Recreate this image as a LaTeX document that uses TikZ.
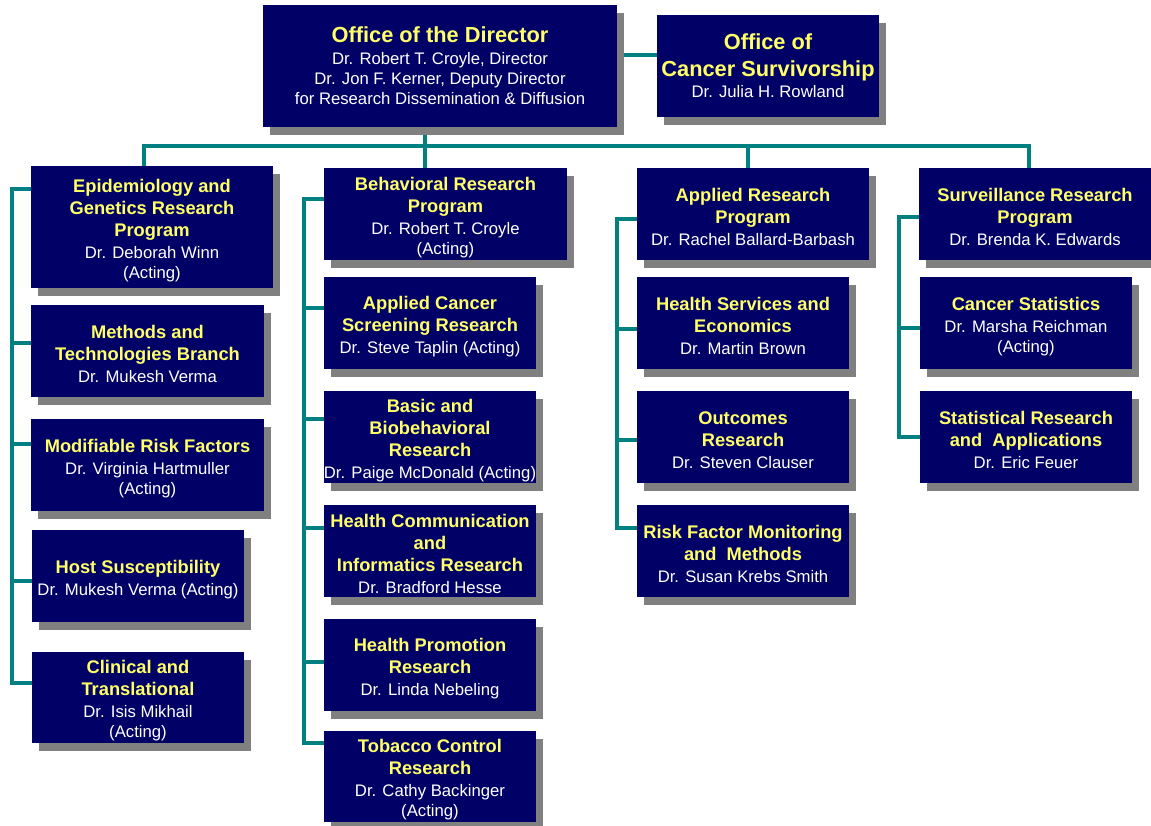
\documentclass[tikz,border=0pt]{standalone}
\usepackage{fontspec}
\setmainfont{Liberation Sans}
\usetikzlibrary{shadows,backgrounds}
\definecolor{boxnavy}{HTML}{000066}
\definecolor{ttlyellow}{HTML}{FFFF66}
\definecolor{linkteal}{HTML}{008080}
\definecolor{shadowgray}{HTML}{808080}
\newcommand{\ttl}[1]{{\fontsize{18.3}{22}\selectfont\bfseries\color{ttlyellow}#1}}
\newcommand{\ttlhead}[1]{\ttl{\rule{0pt}{19.5pt}#1}}
\newcommand{\ttlbig}[1]{{\fontsize{21.8}{26}\selectfont\bfseries\color{ttlyellow}#1}}
\newcommand{\tnl}{\\[2pt]}
\begin{document}
\begin{tikzpicture}[x=1pt, y=-1pt,
	unit/.style 2 args={fill=boxnavy, text=white, inner sep=0pt, align=center,
		minimum width=#1, minimum height=#2,
		font=\fontsize{16.7}{20}\selectfont,
		drop shadow={shadow xshift=7pt, shadow yshift=-8pt, fill=shadowgray, opacity=1}},
	link/.style={draw=linkteal, line width=3.5pt}]
	\useasboundingbox (0,0) rectangle (1151,826);
	% top row
	\node[unit={354}{122}] (dir) at (440,66) {\ttlbig{Office of the Director}\\[2pt] Dr. Robert T. Croyle, Director\\ Dr. Jon F. Kerner, Deputy Director\\ for Research Dissemination \& Diffusion};
	\node[unit={222}{102}] (surv) at (768,66) {\ttlbig{Office of}\\[7pt] \ttlbig{Cancer Survivorship}\\[1pt] Dr. Julia H. Rowland};
	% epidemiology column
	\node[unit={242}{122}] (epi) at (152,227) {\ttlhead{Epidemiology and}\tnl \ttl{Genetics Research}\tnl \ttl{Program}\tnl Dr. Deborah Winn\\ (Acting)};
	\node[unit={233}{92}] (meth) at (147.5,351) {\ttlhead{Methods and}\tnl \ttl{Technologies Branch}\tnl Dr. Mukesh Verma};
	\node[unit={233}{92}] (modif) at (147.5,465) {\ttlhead{Modifiable Risk Factors}\tnl Dr. Virginia Hartmuller\\ (Acting)};
	\node[unit={212}{92}] (host) at (138,576) {\ttlhead{Host Susceptibility}\tnl Dr. Mukesh Verma (Acting)};
	\node[unit={212}{91}] (clin) at (138,697.5) {\ttlhead{Clinical and}\tnl \ttl{Translational}\tnl Dr. Isis Mikhail\\ (Acting)};
	% behavioral column
	\node[unit={243}{92}] (behav) at (445.5,214) {\ttlhead{Behavioral Research}\tnl \ttl{Program}\tnl Dr. Robert T. Croyle\\ (Acting)};
	\node[unit={212}{92}] (acsr) at (430,323) {\ttlhead{Applied Cancer}\tnl \ttl{Screening Research}\tnl Dr. Steve Taplin (Acting)};
	\node[unit={212}{92}] (basic) at (430,437) {\ttlhead{Basic and}\tnl \ttl{Biobehavioral}\tnl \ttl{Research}\tnl Dr. Paige McDonald (Acting)};
	\node[unit={212}{92}] (hcomm) at (430,551) {\ttlhead{Health Communication}\tnl \ttl{and}\tnl \ttl{Informatics Research}\tnl Dr. Bradford Hesse};
	\node[unit={212}{92}] (hprom) at (430,665) {\ttlhead{Health Promotion}\tnl \ttl{Research}\tnl Dr. Linda Nebeling};
	\node[unit={212}{91}] (tob) at (430,776.5) {\ttlhead{Tobacco Control}\tnl \ttl{Research}\tnl Dr. Cathy Backinger\\ (Acting)};
	% applied research column
	\node[unit={232}{92}] (appl) at (753,214) {\ttlhead{Applied Research}\tnl \ttl{Program}\tnl Dr. Rachel Ballard-Barbash};
	\node[unit={212}{92}] (hserv) at (743,323) {\ttlhead{Health Services and}\tnl \ttl{Economics}\tnl Dr. Martin Brown};
	\node[unit={212}{92}] (outc) at (743,437) {\ttlhead{Outcomes}\tnl \ttl{Research}\tnl Dr. Steven Clauser};
	\node[unit={212}{92}] (risk) at (743,551) {\ttlhead{Risk Factor Monitoring}\tnl \ttl{and~ Methods}\tnl Dr. Susan Krebs Smith};
	% surveillance column
	\node[unit={232}{92}] (surveil) at (1035,214) {\ttlhead{Surveillance Research}\tnl \ttl{Program}\tnl Dr. Brenda K. Edwards};
	\node[unit={212}{92}] (cstat) at (1026,323) {\ttlhead{Cancer Statistics}\tnl Dr. Marsha Reichman\\ (Acting)};
	\node[unit={212}{92}] (statr) at (1026,437) {\ttlhead{Statistical Research}\tnl \ttl{and~ Applications}\tnl Dr. Eric Feuer};
	% connectors
	\begin{scope}[on background layer]
		\coordinate (bus) at (425,146);
		\draw[link] (dir.east |- 0,55) -- (surv.west |- 0,55);
		\draw[link] (dir.south -| bus) -- (behav.north -| bus);
		\draw[link] (epi.north -| 144,0) |- (bus) -| (surveil.north -| 1029,0);
		\draw[link] (bus -| 748,0) -- (appl.north -| 748,0);
		\coordinate (epiend) at (12,683);
		\coordinate (behend) at (304,743);
		\coordinate (aplend) at (617,528);
		\coordinate (srvend) at (899,437);
		\draw[link] (epi.west |- 0,189) -| (epiend) -- (clin.west |- epiend);
		\draw[link] (behav.west |- 0,199) -| (behend) -- (tob.west |- behend);
		\draw[link] (appl.west |- 0,219) -| (aplend) -- (risk.west |- aplend);
		\draw[link] (surveil.west |- 0,217) -| (srvend) -- (statr.west |- srvend);
		\foreach \n/\y in {meth/343,modif/444,host/581}
		\draw[link] (12,\y) -- (\n.west |- 0,\y);
		\foreach \n/\y in {acsr/308,basic/419,hcomm/528,hprom/662}
		\draw[link] (304,\y) -- (\n.west |- 0,\y);
		\foreach \n/\y in {hserv/329,outc/440}
		\draw[link] (617,\y) -- (\n.west |- 0,\y);
		\draw[link] (899,328) -- (cstat.west |- 0,328);
	\end{scope}
\end{tikzpicture}
\end{document}
